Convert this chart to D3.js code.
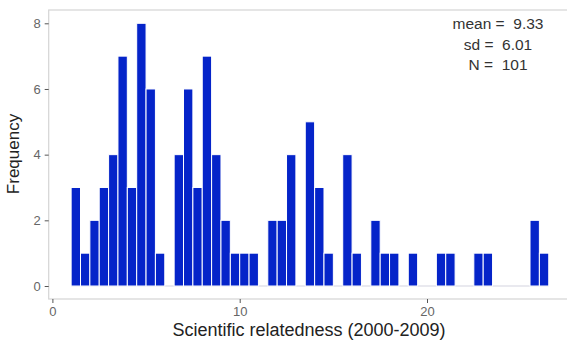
<!DOCTYPE html>
<html>
<head>
<meta charset="utf-8">
<script src="https://cdn.jsdelivr.net/npm/d3@7"></script>
<style>
  body { margin: 0; background: #fff; }
  text { font-family: "Liberation Sans", Arial, sans-serif; }
</style>
</head>
<body>
<div id="chart"></div>
<script>
// histogram bins, width 0.5, first bin starts at 1.0
const binStart = 1.0;
const binWidth = 0.5;
const counts = [3, 1, 2, 3, 4, 7, 3, 8, 6, 1,
                0, 4, 6, 3, 7, 4, 2, 1, 1, 1,
                0, 2, 2, 4, 0, 5, 3, 1, 0, 4,
                1, 0, 2, 1, 1, 0, 1, 0, 0, 1,
                1, 0, 0, 1, 1, 0, 0, 0, 0, 2,
                1];
const xTicks = [0, 10, 20];
const yTicks = [0, 2, 4, 6, 8];
const statLines = ["mean =  9.33", "sd =  6.01", "N =  101"];

const width = 567, height = 346;
const panel = { left: 48.7, right: 568, top: 10, bottom: 299 };

const svg = d3.select('#chart')
  .append('svg')
  .attr('width', width)
  .attr('height', height);

const x = d3.scaleLinear().domain([0, 20]).range([52.4, 427]);
const y = d3.scaleLinear().domain([0, 8]).range([286, 23.3]);

const bins = counts.map((c, i) => ({ x0: binStart + i * binWidth, x1: binStart + (i + 1) * binWidth, n: c }));

// panel border
svg.append('rect')
  .attr('x', panel.left)
  .attr('y', panel.top)
  .attr('width', panel.right - panel.left)
  .attr('height', panel.bottom - panel.top)
  .attr('fill', 'none')
  .attr('stroke', '#d4d4d4')
  .attr('stroke-width', 1.2);

// faint baseline under bins
svg.append('line')
  .attr('x1', x(bins[0].x0))
  .attr('x2', x(bins[bins.length - 1].x1))
  .attr('y1', y(0))
  .attr('y2', y(0))
  .attr('stroke', '#e2e2ea')
  .attr('stroke-width', 1.5);

svg.append('g')
  .selectAll('rect')
  .data(bins.filter(d => d.n > 0))
  .join('rect')
  .attr('x', d => x(d.x0))
  .attr('y', d => y(d.n))
  .attr('width', d => x(d.x1) - x(d.x0))
  .attr('height', d => y(0) - y(d.n))
  .attr('fill', '#0524c9')
  .attr('stroke', '#ffffff')
  .attr('stroke-width', 1);

// y axis
const yAxis = svg.append('g')
  .attr('transform', `translate(${panel.left},0)`)
  .call(d3.axisLeft(y).tickValues(yTicks).tickSize(4).tickPadding(4));
yAxis.select('.domain').remove();
yAxis.selectAll('line').attr('stroke', '#555').attr('stroke-width', 1);
yAxis.selectAll('text').attr('fill', '#666').style('font-size', '13px')
  .style('font-family', '"Liberation Sans", Arial, sans-serif');

// x axis
const xAxis = svg.append('g')
  .attr('transform', `translate(0,${panel.bottom})`)
  .call(d3.axisBottom(x).tickValues(xTicks).tickSize(4).tickPadding(4));
xAxis.select('.domain').remove();
xAxis.selectAll('line').attr('stroke', '#555').attr('stroke-width', 1);
xAxis.selectAll('text').attr('fill', '#666').style('font-size', '13px')
  .style('font-family', '"Liberation Sans", Arial, sans-serif');

// axis titles
svg.append('text')
  .attr('x', 309)
  .attr('y', 336)
  .attr('text-anchor', 'middle')
  .attr('fill', '#222')
  .style('font-size', '18px')
  .text('Scientific relatedness (2000-2009)');

svg.append('text')
  .attr('transform', 'translate(19,154) rotate(-90)')
  .attr('text-anchor', 'middle')
  .attr('fill', '#222')
  .style('font-size', '17px')
  .text('Frequency');

// stats annotation
svg.append('g')
  .selectAll('text')
  .data(statLines)
  .join('text')
  .attr('x', 498)
  .attr('y', (d, i) => 29 + i * 20.5)
  .attr('text-anchor', 'middle')
  .attr('fill', '#333')
  .style('font-size', '15.5px')
  .style('white-space', 'pre')
  .text(d => d);
</script>
</body>
</html>
